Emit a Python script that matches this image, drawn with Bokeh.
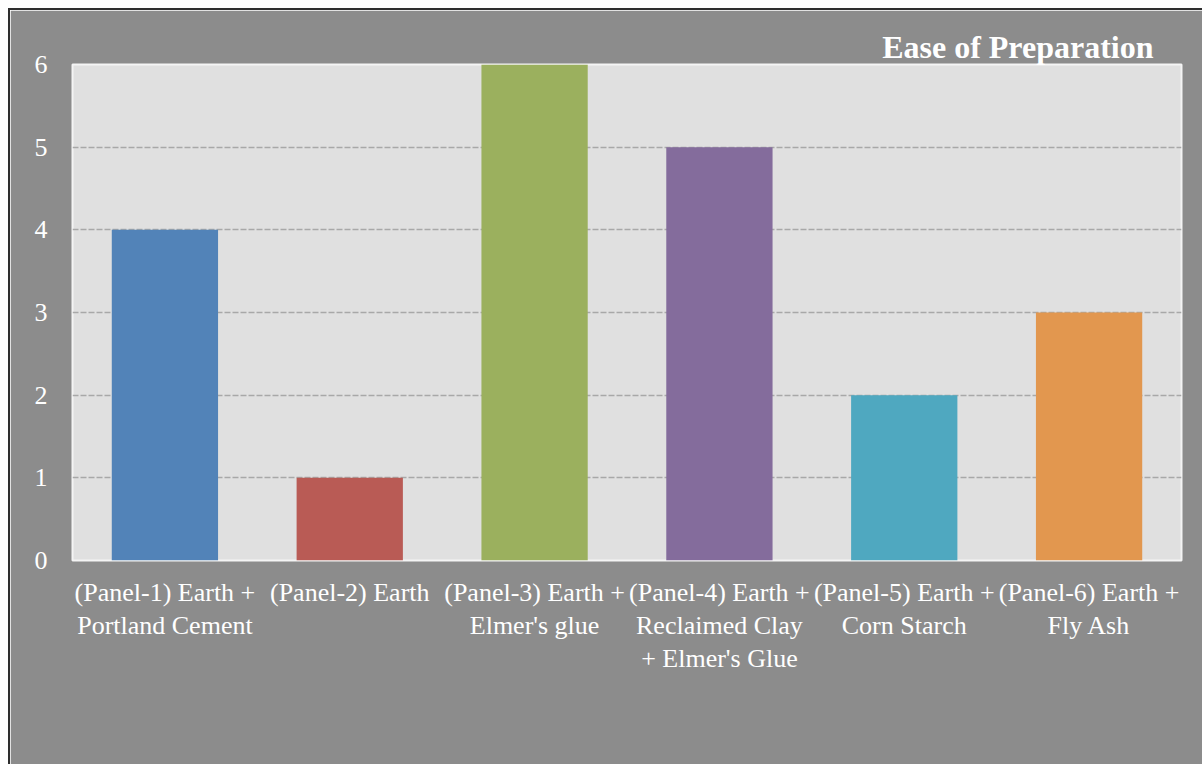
from bokeh.plotting import figure
from bokeh.models import ColumnDataSource, Range1d, SingleIntervalTicker
from bokeh.embed import file_html
from bokeh.resources import INLINE

# Ease-of-preparation scores for each earth panel mix
panels = [
    "(Panel-1) Earth +\nPortland Cement",
    "(Panel-2) Earth",
    "(Panel-3) Earth +\nElmer's glue",
    "(Panel-4) Earth +\nReclaimed Clay\n+ Elmer's Glue",
    "(Panel-5) Earth +\nCorn Starch",
    "(Panel-6) Earth +\nFly Ash",
]
scores = [4, 1, 6, 5, 2, 3]
bar_colors = ["#5283b8", "#b95b55", "#9bb05e", "#846c9c", "#4fa8c0", "#e2974f"]

SERIF = "Liberation Serif"
BG = "#8c8c8c"

source = ColumnDataSource(dict(panel=panels, score=scores, color=bar_colors))

p = figure(
    x_range=panels,
    y_range=Range1d(0, 6),
    width=1194,
    height=756,
    output_backend="svg",
    toolbar_location=None,
    min_border_left=62,
    min_border_right=23,
    min_border_top=54,
    min_border_bottom=206,
)
p.styles = {
    "margin-left": "8px",
    "margin-top": "8px",
    "border-left": "2px solid #2e2e2e",
    "border-top": "2px solid #2e2e2e",
}

p.vbar(x="panel", top="score", bottom=0, width=0.575, color="color", line_color=None, source=source)

p.background_fill_color = "#e0e0e0"
p.border_fill_color = BG
p.outline_line_color = "#f4f4f4"
p.outline_line_width = 2

p.title.text = "Ease of Preparation"
p.title.align = "right"
p.title.text_font = SERIF
p.title.text_font_size = "32px"
p.title.text_font_style = "bold"
p.title.text_color = "white"
p.title.offset = 28
p.title.standoff = 0

p.xgrid.grid_line_color = None
p.ygrid.grid_line_color = "#a8a8a8"
p.ygrid.grid_line_dash = "6 2"
p.ygrid.grid_line_width = 1.3

p.yaxis.ticker = SingleIntervalTicker(interval=1)
for ax in (p.xaxis[0], p.yaxis[0]):
    ax.axis_line_color = None
    ax.major_tick_line_color = None
    ax.minor_tick_line_color = None
    ax.major_label_text_font = SERIF
    ax.major_label_text_font_size = "26px"
    ax.major_label_text_color = "white"

p.yaxis.major_label_standoff = 19
p.xaxis.major_label_standoff = 11
p.xaxis.major_label_text_line_height = 1.15

open("out.html", "w").write(file_html(p, INLINE))
